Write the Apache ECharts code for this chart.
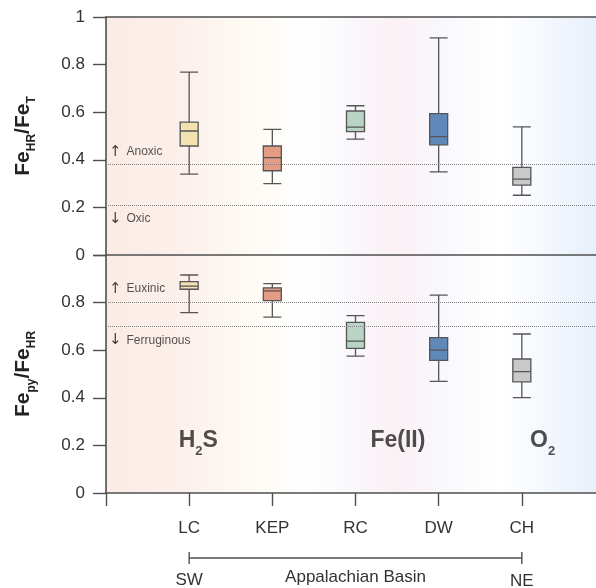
<!DOCTYPE html>
<html>
<head>
<meta charset="utf-8">
<script src="https://cdn.jsdelivr.net/npm/echarts@6/dist/echarts.min.js"></script>
<style>
html, body { margin: 0; padding: 0; background: #fff; }
#main { width: 596px; height: 588px; }
</style>
</head>
<body>
<div id="main"></div>
<script>
// sites, SW -> NE across the Appalachian Basin
const sites = ['LC', 'KEP', 'RC', 'DW', 'CH']
const boxColors = ['#f3e1b2', '#e59b84', '#b9d3c4', '#5f89b9', '#c9c9cb']
// [min, Q1, median, Q3, max]
const feHRFeT = [
  [0.34, 0.458, 0.521, 0.558, 0.768],
  [0.30, 0.354, 0.409, 0.458, 0.528],
  [0.487, 0.518, 0.537, 0.605, 0.627],
  [0.349, 0.463, 0.497, 0.594, 0.912],
  [0.251, 0.294, 0.319, 0.368, 0.538],
]
const fePyFeHR = [
  [0.758, 0.856, 0.869, 0.888, 0.916],
  [0.739, 0.808, 0.849, 0.862, 0.880],
  [0.575, 0.608, 0.638, 0.717, 0.745],
  [0.469, 0.557, 0.600, 0.653, 0.831],
  [0.401, 0.467, 0.510, 0.563, 0.668],
]
const topThresholds = [0.38, 0.21]
const bottomThresholds = [0.8, 0.7]
const topNotes = [[0.035, 0.433, '↑', 'Anoxic'], [0.035, 0.152, '↓', 'Oxic']]
const bottomNotes = [[0.035, 0.858, '↑', 'Euxinic'], [0.035, 0.642, '↓', 'Ferruginous']]
const regimes = [[1.11, 0.22, '{b|H}{s|2}{b|S}'], [3.51, 0.22, '{b|Fe(II)}'], [5.25, 0.22, '{b|O}{s|2}']]

const FONT = 'Liberation Sans, Arial, sans-serif'
const AXIS = '#4f4f4f'

let myChart = echarts.init(document.getElementById('main'))

const bg = new echarts.graphic.LinearGradient(0, 0, 1, 0, [
  { offset: 0, color: '#fbebe5' },
  { offset: 0.15, color: '#fcf0eb' },
  { offset: 0.3, color: '#fefbf5' },
  { offset: 0.4, color: '#ffffff' },
  { offset: 0.5, color: '#f9f7fb' },
  { offset: 0.58, color: '#fbf0f5' },
  { offset: 0.68, color: '#f9f8fc' },
  { offset: 0.79, color: '#ffffff' },
  { offset: 0.98, color: '#e8f0fb' },
])

function yAxisOpt(gridIndex, nameRich, hideTop) {
  return {
    type: 'value',
    gridIndex: gridIndex,
    min: 0,
    max: 1,
    interval: 0.2,
    splitLine: { show: false },
    axisLine: { show: true, lineStyle: { color: AXIS, width: 1.6 } },
    axisTick: { show: true, length: 13, lineStyle: { color: AXIS, width: 1.4 } },
    axisLabel: {
      margin: 21,
      fontSize: 17,
      color: '#333',
      fontFamily: FONT,
      formatter: function (v) {
        if (hideTop && v === 1) return ''
        return v === 0 || v === 1 ? String(v) : v.toFixed(1)
      },
    },
    name: nameRich,
    nameLocation: 'middle',
    nameRotate: 90,
    nameGap: 68,
    nameTextStyle: {
      rich: {
        a: { fontSize: 21, fontWeight: 'bold', color: '#222', fontFamily: FONT, lineHeight: 30 },
        s: { fontSize: 12, fontWeight: 'bold', color: '#222', fontFamily: FONT, lineHeight: 30, verticalAlign: 'bottom' },
      },
    },
  }
}

function xAxisOpt(gridIndex, position, withTicks) {
  return {
    type: 'value',
    gridIndex: gridIndex,
    position: position,
    min: 0,
    max: 6,
    interval: 1,
    splitLine: { show: false },
    axisLine: { show: true, lineStyle: { color: AXIS, width: 1.6 } },
    axisTick: { show: withTicks, length: 13, lineStyle: { color: AXIS, width: 1.4 } },
    axisLabel: {
      show: withTicks,
      margin: 27,
      fontSize: 17,
      color: '#333',
      fontFamily: FONT,
      formatter: function (v) { return sites[v - 1] || '' },
    },
  }
}

function boxSeries(values, xIdx, yIdx, lines) {
  return {
    type: 'boxplot',
    xAxisIndex: xIdx,
    yAxisIndex: yIdx,
    boxWidth: [18, 18],
    silent: true,
    data: values.map(function (v, i) {
      return { value: [i + 1].concat(v), itemStyle: { color: boxColors[i] } }
    }),
    itemStyle: { borderColor: '#555', borderWidth: 1.3 },
    markLine: {
      silent: true,
      symbol: 'none',
      label: { show: false },
      lineStyle: { type: 'dotted', color: '#808080', width: 1 },
      data: lines.map(function (v) { return { yAxis: v } }),
    },
  }
}

function noteSeries(notes, xIdx, yIdx) {
  return {
    type: 'scatter',
    xAxisIndex: xIdx,
    yAxisIndex: yIdx,
    symbolSize: 0,
    silent: true,
    data: notes.map(function (n) { return [n[0], n[1], n[2], n[3]] }),
    label: {
      show: true,
      position: 'right',
      distance: 0,
      formatter: function (p) { return '{ar|' + p.value[2] + '}{t|' + p.value[3] + '}' },
      rich: {
        ar: { fontSize: 15, color: '#111', fontFamily: 'DejaVu Sans', padding: [0, 5, 0, 0] },
        t: { fontSize: 12, color: '#2a2a2a', fontFamily: FONT },
      },
    },
  }
}

myChart.setOption({
  animation: false,
  grid: [
    { left: 106, top: 17, height: 238, width: 499, outerBoundsMode: 'none', containLabel: false, show: true, backgroundColor: bg, borderWidth: 0 },
    { left: 106, top: 255, height: 238, width: 499, outerBoundsMode: 'none', containLabel: false, show: true, backgroundColor: bg, borderWidth: 0 },
  ],
  xAxis: [xAxisOpt(0, 'bottom', false), xAxisOpt(0, 'top', false), xAxisOpt(1, 'bottom', true)],
  yAxis: [
    yAxisOpt(0, '{a|Fe}{s|HR}{a|/Fe}{s|T}', false),
    yAxisOpt(1, '{a|Fe}{s|py}{a|/Fe}{s|HR}', true),
  ],
  series: [
    boxSeries(feHRFeT, 0, 0, topThresholds),
    boxSeries(fePyFeHR, 2, 1, bottomThresholds),
    noteSeries(topNotes, 0, 0),
    noteSeries(bottomNotes, 2, 1),
    {
      type: 'scatter',
      xAxisIndex: 2,
      yAxisIndex: 1,
      symbolSize: 0,
      silent: true,
      data: regimes.map(function (r) { return [r[0], r[1], r[2]] }),
      label: {
        show: true,
        position: 'inside',
        formatter: function (p) { return p.value[2] },
        rich: {
          b: { fontSize: 23, fontWeight: 'bold', color: '#222', fontFamily: FONT, lineHeight: 34 },
          s: { fontSize: 13, fontWeight: 'bold', color: '#222', fontFamily: FONT, lineHeight: 34, verticalAlign: 'bottom' },
        },
      },
    },
  ],
})

// SW -> NE bracket under the site labels
const x1 = myChart.convertToPixel({ xAxisIndex: 2 }, 1)
const x2 = myChart.convertToPixel({ xAxisIndex: 2 }, sites.length)
const by = 558
const txt = { fontSize: 17, fill: '#333', fontFamily: FONT, textAlign: 'center', textVerticalAlign: 'middle' }
myChart.setOption({
  graphic: [
    { type: 'line', shape: { x1: x1, y1: by, x2: x2, y2: by }, style: { stroke: AXIS, lineWidth: 1.4 } },
    { type: 'line', shape: { x1: x1, y1: by - 6, x2: x1, y2: by + 6 }, style: { stroke: AXIS, lineWidth: 1.4 } },
    { type: 'line', shape: { x1: x2, y1: by - 6, x2: x2, y2: by + 6 }, style: { stroke: AXIS, lineWidth: 1.4 } },
    { type: 'text', x: x1, y: 580, style: Object.assign({ text: 'SW' }, txt) },
    { type: 'text', x: (x1 + x2) / 2, y: 577, style: Object.assign({ text: 'Appalachian Basin' }, txt) },
    { type: 'text', x: x2, y: 581, style: Object.assign({ text: 'NE' }, txt) },
  ],
})
</script>
</body>
</html>
